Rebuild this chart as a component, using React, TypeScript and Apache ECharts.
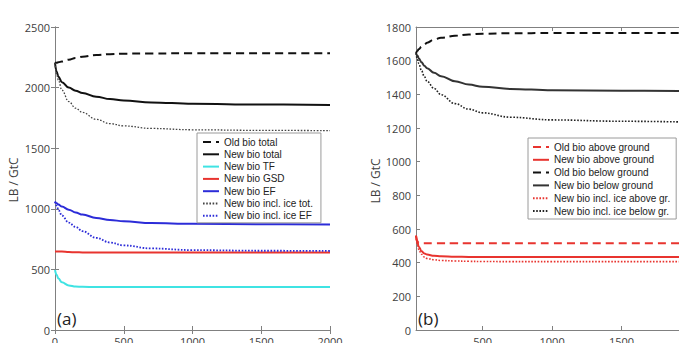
import React, { useEffect, useRef } from "react";
import * as echarts from "echarts";

// Panel (a): total living biomass, years 0–2000
const yearsA = [0, 12, 25, 50, 100, 150, 200, 300, 400, 500, 700, 1000, 1500, 2000];
const oldBioTotal = [2205, 2206, 2209, 2215, 2230, 2244, 2255, 2268, 2276, 2280, 2282, 2283, 2283, 2283];
const newBioTotal = [2205, 2130, 2090, 2045, 2000, 1975, 1955, 1925, 1905, 1893, 1878, 1867, 1860, 1857];
const newBioTF = [495, 455, 425, 393, 368, 358, 356, 355, 355, 355, 355, 355, 355, 355];
const newBioGSD = [648, 648, 648, 647, 644, 641, 640, 640, 640, 640, 640, 640, 640, 640];
const newBioEF = [1060, 1045, 1035, 1018, 993, 970, 952, 925, 908, 897, 883, 876, 872, 870];
const iceTot = [2205, 2110, 2060, 1980, 1885, 1830, 1795, 1738, 1703, 1684, 1663, 1652, 1647, 1645];
const iceEF = [1058, 1025, 990, 945, 886, 850, 815, 760, 722, 698, 673, 659, 654, 652];

// Panel (b): above / below ground biomass, years 20–2000
const yearsB = [20, 30, 40, 60, 80, 100, 150, 200, 300, 400, 500, 700, 1000, 1500, 2000];
const oldAbove = [560, 528, 517, 515, 515, 515, 515, 515, 515, 515, 515, 515, 515, 515, 515];
const newAbove = [560, 520, 495, 468, 455, 448, 441, 438, 435, 434, 433, 433, 433, 433, 433];
const oldBelow = [1645, 1658, 1668, 1683, 1696, 1707, 1725, 1736, 1748, 1756, 1760, 1763, 1764, 1764, 1764];
const newBelow = [1645, 1630, 1615, 1590, 1570, 1555, 1528, 1508, 1478, 1458, 1445, 1432, 1424, 1421, 1420];
const iceAbove = [560, 510, 478, 450, 433, 425, 417, 413, 410, 408, 407, 406, 406, 406, 406];
const iceBelow = [1645, 1610, 1583, 1540, 1505, 1477, 1435, 1398, 1345, 1312, 1290, 1264, 1248, 1240, 1235];

const xTicksB = [500, 1000, 1500, 2000];

const pairs = (xs: number[], ys: number[]) => xs.map((x, i) => [x, ys[i]]);

const AXIS = "#808080";
const LABEL = "#404040";
const CYAN = "#3fe3e3";
const RED = "#e8342f";
const BLUE = "#2c2cd8";
const DASH = [8, 5];
const DOT = [1.6, 1.6];

const labelFont = {
  fontFamily: "Open Sans",
  fontSize: 11,
  color: LABEL,
  formatter: (v: number) => String(v),
};

function line(name: string, xs: number[], ys: number[], color: string, type: any, width: number, panel: number) {
  return {
    type: "line",
    name,
    xAxisIndex: panel === 0 ? 0 : 2,
    yAxisIndex: panel === 0 ? 0 : 2,
    data: pairs(xs, ys),
    symbol: "none",
    smooth: 0.4,
    smoothMonotone: "x",
    lineStyle: { color, type, width },
    itemStyle: { color },
    z: 3,
  };
}

export default function App() {
  const ref = useRef<HTMLDivElement>(null);

  useEffect(() => {
    const chart = echarts.init(ref.current!, null, { renderer: "svg" });

    const tick = { show: true, inside: true, length: 4, lineStyle: { color: AXIS } };
    const axisLine = { show: true, lineStyle: { color: AXIS, width: 1 } };

    const legendBase = {
      orient: "vertical",
      itemWidth: 16,
      itemHeight: 8,
      borderColor: "#9a9a9a",
      borderWidth: 1,
      backgroundColor: "#fff",
      itemStyle: { opacity: 0 },
      textStyle: { fontFamily: "Liberation Sans", fontSize: 10, lineHeight: 10, color: "#222" },
    };

    chart.setOption({
      animation: false,
      backgroundColor: "#fff",
      grid: [
        { left: 55, top: 27, width: 275, height: 303, outerBoundsMode: "none", containLabel: false },
        { left: 416, top: 27, width: 275, height: 303, outerBoundsMode: "none", containLabel: false },
      ],
      xAxis: [
        {
          type: "value", gridIndex: 0, min: 0, max: 2000, interval: 500,
          axisLine, axisTick: tick, splitLine: { show: false },
          axisLabel: { ...labelFont, margin: 6, showMaxLabel: true, showMinLabel: true },
        },
        {
          type: "value", gridIndex: 0, position: "top", min: 0, max: 2000, interval: 500,
          axisLine, axisTick: tick, splitLine: { show: false }, axisLabel: { show: false },
        },
        {
          type: "value", gridIndex: 1, min: 20, max: 2000,
          axisLine, splitLine: { show: false },
          axisTick: { ...tick, customValues: xTicksB },
          axisLabel: { ...labelFont, margin: 6, customValues: xTicksB, showMaxLabel: true },
        },
        {
          type: "value", gridIndex: 1, position: "top", min: 20, max: 2000,
          axisLine, splitLine: { show: false },
          axisTick: { ...tick, customValues: xTicksB },
          axisLabel: { show: false },
        },
      ],
      yAxis: [
        {
          type: "value", gridIndex: 0, min: 0, max: 2500, interval: 500,
          axisLine, axisTick: tick, splitLine: { show: false },
          axisLabel: { ...labelFont, margin: 5 },
        },
        {
          type: "value", gridIndex: 0, position: "right", min: 0, max: 2500, interval: 500,
          axisLine, axisTick: tick, splitLine: { show: false }, axisLabel: { show: false },
        },
        {
          type: "value", gridIndex: 1, min: 0, max: 1800, interval: 200,
          axisLine, axisTick: tick, splitLine: { show: false },
          axisLabel: { ...labelFont, margin: 5 },
        },
      ],
      legend: [
        {
          ...legendBase,
          left: 197, top: 133,
          padding: [4, 8, 2, 5], itemGap: 2.3,
          data: ["Old bio total", "New bio total", "New bio TF", "New bio GSD", "New bio EF",
            "New bio incl. ice tot.", "New bio incl. ice EF"],
        },
        {
          ...legendBase,
          left: 528, top: 138,
          padding: [4, 6, 3, 4], itemGap: 2.8,
          data: ["Old bio above ground", "New bio above ground", "Old bio below ground",
            "New bio below ground", "New bio incl. ice above gr.", "New bio incl. ice below gr."],
        },
      ],
      graphic: [
        {
          type: "text", x: 13, y: 180, rotation: Math.PI / 2,
          style: { text: "LB / GtC", fontFamily: "Open Sans", fontSize: 12, fill: LABEL, align: "center", verticalAlign: "middle" },
        },
        {
          type: "text", x: 375, y: 181, rotation: Math.PI / 2,
          style: { text: "LB / GtC", fontFamily: "Open Sans", fontSize: 12, fill: LABEL, align: "center", verticalAlign: "middle" },
        },
        {
          type: "text", x: 57, y: 318,
          style: { text: "(a)", fontFamily: "Open Sans", fontSize: 17, fill: "#222", align: "left", verticalAlign: "middle" },
        },
        {
          type: "text", x: 418, y: 318,
          style: { text: "(b)", fontFamily: "Open Sans", fontSize: 17, fill: "#222", align: "left", verticalAlign: "middle" },
        },
      ],
      series: [
        line("Old bio total", yearsA, oldBioTotal, "#111", DASH, 2, 0),
        line("New bio total", yearsA, newBioTotal, "#111", "solid", 2, 0),
        line("New bio TF", yearsA, newBioTF, CYAN, "solid", 2, 0),
        line("New bio GSD", yearsA, newBioGSD, RED, "solid", 2, 0),
        line("New bio EF", yearsA, newBioEF, BLUE, "solid", 2, 0),
        line("New bio incl. ice tot.", yearsA, iceTot, "#444", DOT, 1.3, 0),
        line("New bio incl. ice EF", yearsA, iceEF, BLUE, DOT, 1.8, 0),

        line("Old bio above ground", yearsB, oldAbove, RED, DASH, 2, 1),
        line("New bio above ground", yearsB, newAbove, RED, "solid", 2, 1),
        line("Old bio below ground", yearsB, oldBelow, "#111", DASH, 2, 1),
        line("New bio below ground", yearsB, newBelow, "#333", "solid", 2, 1),
        line("New bio incl. ice above gr.", yearsB, iceAbove, RED, DOT, 1.6, 1),
        line("New bio incl. ice below gr.", yearsB, iceBelow, "#222", DOT, 1.6, 1),
      ],
    });

    return () => chart.dispose();
  }, []);

  return <div ref={ref} style={{ width: 679, height: 343, position: "absolute", left: 0, top: 0 }} />;
}
